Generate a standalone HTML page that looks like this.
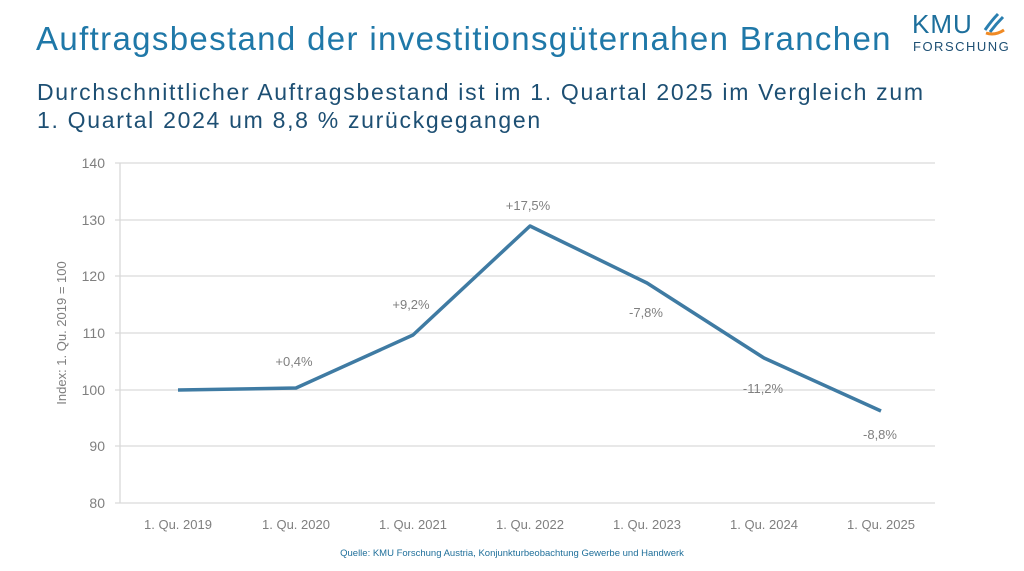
<!DOCTYPE html>
<html><head><meta charset="utf-8"><style>
body{margin:0;width:1024px;height:571px;background:#fff;overflow:hidden;font-family:"Liberation Sans",sans-serif;position:relative}
.t{position:absolute;left:36px;top:20px;font-size:33px;color:#1f78a8;letter-spacing:1.35px;white-space:nowrap}
.s{position:absolute;left:37px;top:78px;font-size:23px;line-height:28px;color:#1d4f73;letter-spacing:1.7px;white-space:nowrap}
</style></head><body>
<div class="t">Auftragsbestand der investitionsgüternahen Branchen</div>
<div class="s">Durchschnittlicher Auftragsbestand ist im 1. Quartal 2025 im Vergleich zum<br>1. Quartal 2024 um 8,8 % zurückgegangen</div>
<div style="position:absolute;left:912px;top:9px;font-size:26px;color:#1d6f9c;letter-spacing:1px">KMU</div>
<div style="position:absolute;left:913px;top:39px;font-size:13px;color:#1d4f73;letter-spacing:1.5px">FORSCHUNG</div>
<svg style="position:absolute;left:0;top:0" width="1024" height="571">
<path d="M985 30 Q992 20 998 14 M990 32 Q996 24 1003 17" stroke="#2a7fb0" stroke-width="3" fill="none"/>
<path d="M986 33 Q995 36 1004 30" stroke="#f08a24" stroke-width="3" fill="none"/>
<g stroke="#d9d9d9" stroke-width="1.3">
<line x1="115" y1="163" x2="935" y2="163"/><line x1="115" y1="220" x2="935" y2="220"/>
<line x1="115" y1="276" x2="935" y2="276"/><line x1="115" y1="333" x2="935" y2="333"/>
<line x1="115" y1="390" x2="935" y2="390"/><line x1="115" y1="446" x2="935" y2="446"/>
<line x1="115" y1="503" x2="935" y2="503"/><line x1="120" y1="163" x2="120" y2="503"/>
</g>
<g font-size="14" fill="#7f7f7f" text-anchor="end">
<text x="105" y="168">140</text><text x="105" y="225">130</text><text x="105" y="281">120</text>
<text x="105" y="338">110</text><text x="105" y="395">100</text><text x="105" y="451">90</text><text x="105" y="508">80</text>
</g>
<text transform="translate(66,333) rotate(-90)" font-size="13" fill="#7f7f7f" text-anchor="middle">Index: 1. Qu. 2019 = 100</text>
<g font-size="13" fill="#7f7f7f" text-anchor="middle">
<text x="178" y="529">1. Qu. 2019</text><text x="296" y="529">1. Qu. 2020</text><text x="413" y="529">1. Qu. 2021</text>
<text x="530" y="529">1. Qu. 2022</text><text x="647" y="529">1. Qu. 2023</text><text x="764" y="529">1. Qu. 2024</text><text x="881" y="529">1. Qu. 2025</text>
</g>
<polyline points="178,390 296,388 413,335 530,226 647,283 764,358 881,411" fill="none" stroke="#3f7ba3" stroke-width="3.5" stroke-linejoin="round"/>
<g font-size="13" fill="#7f7f7f" text-anchor="middle">
<text x="294" y="366">+0,4%</text><text x="411" y="309">+9,2%</text><text x="528" y="210">+17,5%</text>
<text x="646" y="317">-7,8%</text><text x="763" y="393">-11,2%</text><text x="880" y="439">-8,8%</text>
</g>
<text x="512" y="556" font-size="9.5" fill="#1f6f9a" text-anchor="middle">Quelle: KMU Forschung Austria, Konjunkturbeobachtung Gewerbe und Handwerk</text>
</svg>
</body></html>
